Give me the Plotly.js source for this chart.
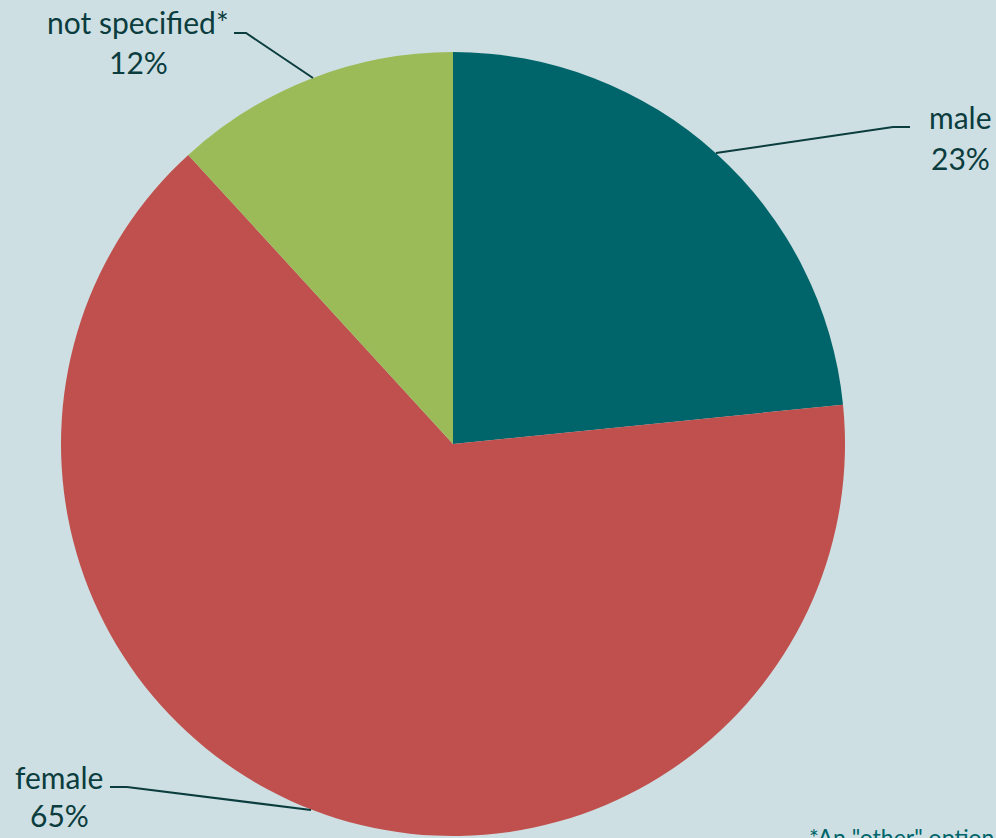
<!DOCTYPE html>
<html>
<head>
<meta charset="utf-8">
<script src="https://cdn.plot.ly/plotly-3.0.1.min.js"></script>
<style>html,body{margin:0;padding:0;background:#cddfe2;overflow:hidden}</style>
</head>
<body>
<div id="chart" style="width:996px;height:838px"></div>
<script>
const labels = ["male", "female", "not specified*"];
const values = [23.4, 64.8, 11.8];
const colors = ["#00656a", "#c0504d", "#9bbb59"];
const footnote = '*An "other" option';

const W = 996, H = 838;
const px = x => x / W;
const py = y => (H - y) / H;
const cx = 453, cy = 444, R = 392;

const total = values.reduce((a, b) => a + b, 0);
const labelPos = [
  {x: 960, y1: 117, y2: 158, line: [[716,153],[893,127],[910,127]]},
  {x: 59,  y1: 777, y2: 815, line: [[311,810],[127,787],[110,787]]},
  {x: 138, y1: 22,  y2: 62,  line: [[313,78],[246,33],[234,33]]}
];
const textColor = "#0b3c3e";
const fontFam = "Lato, 'Open Sans', sans-serif";

const annotations = [];
const shapes = [];
labels.forEach((lab, i) => {
  const p = labelPos[i];
  annotations.push({xref:"paper", yref:"paper", x:px(p.x), y:py(p.y1), text:lab,
    showarrow:false, xanchor:"center", yanchor:"middle", font:{size:30, color:textColor, family:fontFam}});
  annotations.push({xref:"paper", yref:"paper", x:px(p.x), y:py(p.y2), text:Math.round(values[i] / total * 100) + "%",
    showarrow:false, xanchor:"center", yanchor:"middle", font:{size:30, color:textColor, family:fontFam}});
  const pts = p.line;
  const path = pts.map((q, k) => (k ? "L" : "M") + px(q[0]) + "," + py(q[1])).join(" ");
  shapes.push({type:"path", xref:"paper", yref:"paper", path:path, line:{color:textColor, width:2}});
});
annotations.push({xref:"paper", yref:"paper", x:px(807), y:py(821), text:footnote,
  showarrow:false, xanchor:"left", yanchor:"top", font:{size:23, color:"#00656a", family:fontFam}});

const data = [{
  type: "pie",
  labels: labels,
  values: values,
  sort: false,
  direction: "clockwise",
  rotation: 0,
  marker: {colors: colors, line: {width: 0}},
  textinfo: "none",
  hoverinfo: "label+percent",
  showlegend: false,
  domain: {x: [px(cx - R), px(cx + R)], y: [py(cy + R), py(cy - R)]}
}];

const layout = {
  width: W, height: H,
  margin: {l:0, r:0, t:0, b:0},
  paper_bgcolor: "#cddfe2",
  plot_bgcolor: "#cddfe2",
  annotations: annotations,
  shapes: shapes,
  showlegend: false
};

Plotly.newPlot("chart", data, layout, {displayModeBar:false, staticPlot:true});
</script>
</body>
</html>
